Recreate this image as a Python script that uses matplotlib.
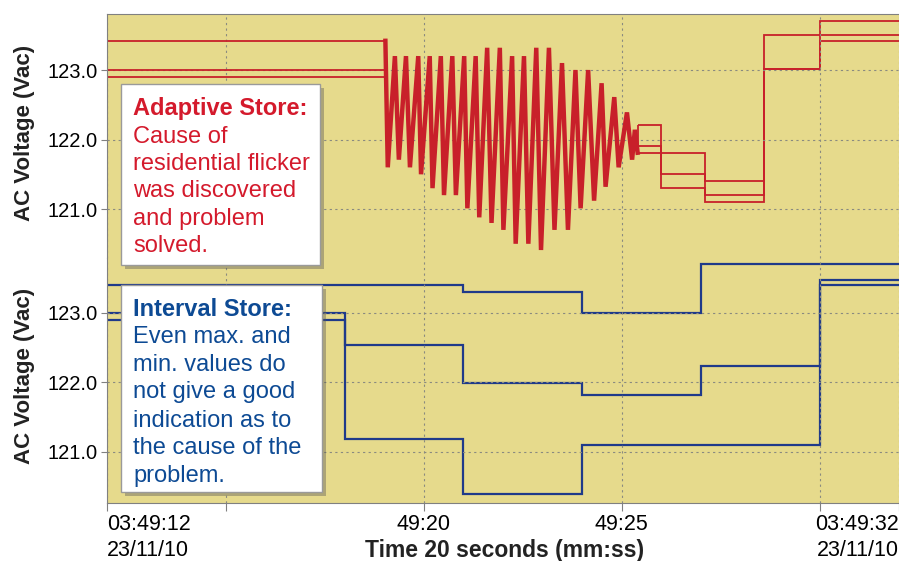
import matplotlib
matplotlib.use('Agg')
import matplotlib.pyplot as plt
from matplotlib.patches import Rectangle

plt.rcParams['font.family'] = ['Liberation Sans', 'DejaVu Sans']

# time axis in seconds after 03:49:00
x_ticks = [12, 15, 20, 25, 30, 32]
x_labels = ['03:49:12\n23/11/10', '', '49:20', '49:25', '', '03:49:32\n23/11/10']
y_ticks = [121, 122, 123]
y_labels = ['121.0', '122.0', '123.0']

# adaptive store (red): steady part before the flicker
red_pre_end = 19.03
red_pre = [123.42, 123.0, 122.9]   # max, avg, min

# adaptive store: flicker trace (peaks / troughs)
osc_t = [19.03, 19.09, 19.27, 19.37, 19.55, 19.65, 19.86, 19.93, 20.15, 20.22,
         20.43, 20.51, 20.72, 20.81, 21.02, 21.10, 21.31, 21.40, 21.60, 21.71,
         21.92, 22.01, 22.23, 22.32, 22.53, 22.64, 22.84, 22.96, 23.16, 23.30,
         23.49, 23.64, 23.83, 23.96, 24.15, 24.30, 24.49, 24.59, 24.81, 24.92,
         25.13, 25.26, 25.33, 25.40]
osc_v = [123.42, 121.60, 123.20, 121.71, 123.20, 121.60, 123.20, 121.50, 123.20, 121.30,
         123.20, 121.20, 123.20, 121.20, 123.20, 121.01, 123.20, 120.88, 123.32, 120.80,
         123.32, 120.70, 123.20, 120.50, 123.20, 120.50, 123.32, 120.41, 123.32, 120.70,
         123.10, 120.70, 123.00, 121.01, 123.00, 121.12, 122.81, 121.32, 122.61, 121.60,
         122.39, 121.71, 122.14, 121.81]

# adaptive store: records after the flicker
red_edges = [25.4, 26.0, 27.1, 28.6, 30.0, 32.0]
red_max = [122.21, 121.81, 121.40, 123.51, 123.71]
red_avg = [121.91, 121.50, 121.20, 123.01, 123.51]
red_min = [121.81, 121.30, 121.10, 123.01, 123.42]

# interval store (blue), 3 s intervals
blue_edges = [12, 18, 21, 24, 27, 30, 32]
blue_max = [123.40, 123.40, 123.30, 123.00, 123.70, 123.70]
blue_avg = [123.00, 122.54, 121.99, 121.82, 122.24, 123.48]
blue_min = [122.90, 121.19, 120.40, 121.10, 121.10, 123.40]

W, H = 899, 561
bg = '#e6da8c'
red = '#c8202a'
blue = '#1f3a8a'
red_txt = '#d41a2c'
blue_txt = '#0d4a94'
grid_c = '#8a8a80'
spine_c = '#808080'

fig = plt.figure(figsize=(W / 100, H / 100), dpi=100)

def fpos(l, t, r, b):
    return [l / W, 1 - b / H, (r - l) / W, (b - t) / H]

ax1 = fig.add_axes(fpos(107, 14, 899, 258))
ax2 = fig.add_axes(fpos(107, 258, 899, 503))

for ax in (ax1, ax2):
    ax.set_facecolor(bg)
    ax.set_xlim(12, 32)
    ax.set_xticks(x_ticks)
    ax.set_yticks(y_ticks)
    ax.set_yticklabels(y_labels)
    ax.grid(True, color=grid_c, linestyle=(0, (2, 3)), linewidth=0.8)
    ax.tick_params(axis='y', labelsize=14.5, length=4, color=spine_c, pad=3)
    ax.spines['right'].set_visible(False)
    for s in ax.spines.values():
        s.set_color(spine_c)

ax1.set_ylim(120.295, 123.806)
ax2.set_ylim(120.266, 123.79)
ax1.spines['bottom'].set_visible(False)
ax2.spines['top'].set_visible(False)
ax1.tick_params(axis='x', length=0, labelbottom=False)
ax2.set_xticklabels(x_labels)
ax2.tick_params(axis='x', labelsize=15.5, length=6, color=spine_c, pad=2)
labs = ax2.get_xticklabels()
for lab in labs:
    lab.set_linespacing(1.3)
labs[0].set_ha('left')
labs[-1].set_ha('right')

# red traces
for v in red_pre:
    ax1.plot([12, red_pre_end], [v, v], color=red, lw=1.3)
ax1.plot(osc_t, osc_v, color=red, lw=3.2, solid_joinstyle='miter')
for vals in (red_max, red_avg, red_min):
    ax1.stairs(vals, red_edges, baseline=None, color=red, lw=1.3)
ax1.vlines(red_edges[0], red_min[0], red_max[0], color=red, lw=1.3)

# blue traces
for vals in (blue_max, blue_avg, blue_min):
    ax2.stairs(vals, blue_edges, baseline=None, color=blue, lw=1.6)

# annotation boxes
def note_box(l, t, r, b):
    sh = Rectangle((l / W + 4 / W, 1 - b / H - 4 / H), (r - l) / W, (b - t) / H,
                   transform=fig.transFigure, facecolor='#555555', alpha=0.4,
                   edgecolor='none', zorder=5)
    bx = Rectangle((l / W, 1 - b / H), (r - l) / W, (b - t) / H,
                   transform=fig.transFigure, facecolor='white',
                   edgecolor='#9a9a9a', lw=1.0, zorder=6)
    fig.patches.extend([sh, bx])

note_box(121, 84, 320, 265)
note_box(121, 285, 322, 492)

top_lines = ['Adaptive Store:', 'Cause of', 'residential flicker',
             'was discovered', 'and problem', 'solved.']
top_base = [115, 143, 170, 197, 225, 252]
for i, (s, y) in enumerate(zip(top_lines, top_base)):
    fig.text(133 / W, 1 - y / H, s, color=red_txt, fontsize=17,
             fontweight='bold' if i == 0 else 'normal', va='baseline', zorder=7)

bot_lines = ['Interval Store:', 'Even max. and', 'min. values do',
             'not give a good', 'indication as to', 'the cause of the', 'problem.']
bot_base = [316, 343, 371, 398, 427, 454, 482]
for i, (s, y) in enumerate(zip(bot_lines, bot_base)):
    fig.text(133 / W, 1 - y / H, s, color=blue_txt, fontsize=17,
             fontweight='bold' if i == 0 else 'normal', va='baseline', zorder=7)

fig.text(25 / W, 1 - 133 / H, 'AC Voltage (Vac)', rotation=90, fontsize=16,
         fontweight='bold', ha='center', va='center', color='#222222')
fig.text(25 / W, 1 - 376 / H, 'AC Voltage (Vac)', rotation=90, fontsize=16,
         fontweight='bold', ha='center', va='center', color='#222222')
fig.text(505 / W, 1 - 557 / H, 'Time 20 seconds (mm:ss)', fontsize=16.5,
         fontweight='bold', ha='center', va='baseline', color='#222222')

fig.savefig('out.png', dpi=100)
